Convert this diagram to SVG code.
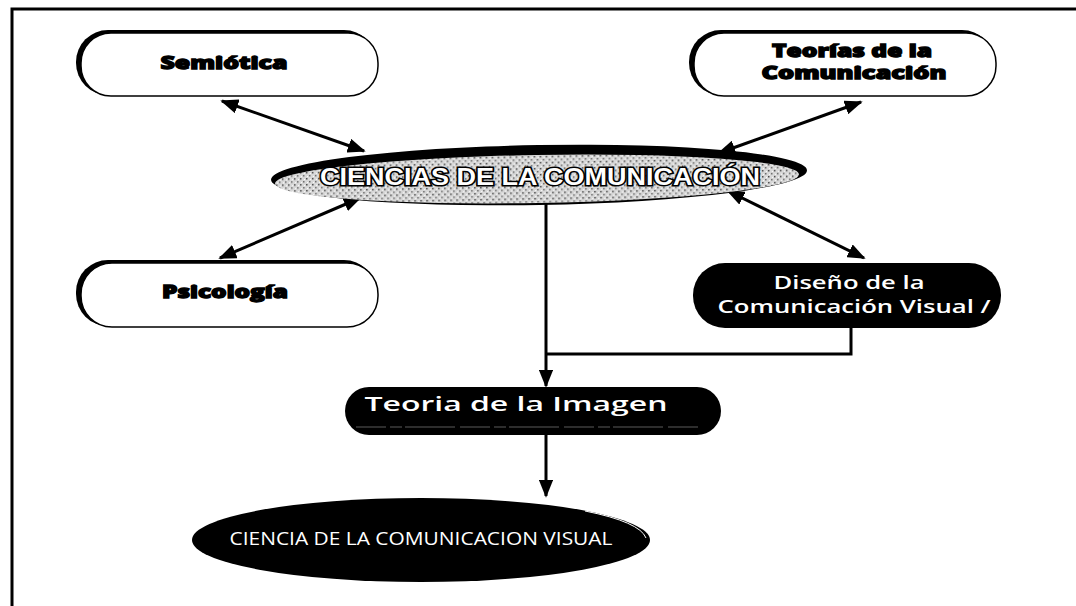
<svg xmlns="http://www.w3.org/2000/svg" width="1076" height="606" viewBox="0 0 1076 606">
<style>
.frame{fill:none;stroke:#000;stroke-width:3}
.conn{fill:none;stroke:#000;stroke-width:3}
.box{fill:#fff;stroke:#000;stroke-width:1.5}
.boxsh{fill:#000}
.hd{font-family:"Open Sans","Liberation Sans",sans-serif;font-weight:800;font-size:18px;fill:#000;stroke:#000;stroke-width:1.3;text-anchor:middle}
.wt{font-family:"Open Sans","Liberation Sans",sans-serif;font-weight:600;fill:#fff;text-anchor:middle}
.big{font-family:"Liberation Sans","Arial",sans-serif;font-weight:bold;font-size:23px;fill:#fff;stroke:#000;stroke-width:3;paint-order:stroke;text-anchor:middle}
</style>
<defs>
<marker id="ah" viewBox="0 0 10 8" refX="9" refY="4" markerWidth="6" markerHeight="4.8" orient="auto-start-reverse" markerUnits="strokeWidth">
<path d="M0,0 L10,4 L0,8 z" fill="#000"/>
</marker>
<pattern id="dots" width="6" height="6" patternUnits="userSpaceOnUse">
<rect width="6" height="6" fill="#d8d8d8"/>
<rect x="0" y="0" width="1.5" height="1.5" fill="#444"/>
<rect x="3" y="3" width="1.5" height="1.5" fill="#666"/>
<rect x="4" y="1" width="1" height="1" fill="#fff"/>
<rect x="1" y="4" width="1" height="1" fill="#fff"/>
</pattern>
</defs>
<rect width="1076" height="606" fill="#fff"/>
<path class="frame" d="M12,606 L12,9 L1076,9"/>

<g id="connectors">
<line class="conn" x1="222" y1="101" x2="364" y2="151" marker-start="url(#ah)" marker-end="url(#ah)"/>
<line class="conn" x1="861" y1="102" x2="719" y2="153" marker-start="url(#ah)" marker-end="url(#ah)"/>
<line class="conn" x1="360" y1="198" x2="220" y2="258" marker-start="url(#ah)" marker-end="url(#ah)"/>
<line class="conn" x1="728" y1="191" x2="864" y2="258" marker-start="url(#ah)" marker-end="url(#ah)"/>
<line class="conn" x1="546" y1="204" x2="546" y2="386" marker-end="url(#ah)"/>
<polyline class="conn" points="851,328 851,354 546,354"/>
<line class="conn" x1="546" y1="435" x2="546" y2="496" marker-end="url(#ah)"/>
</g>

<g id="ciencias">
<ellipse cx="539" cy="175" rx="268" ry="30" transform="rotate(-1 539 175)" fill="#000"/>
<ellipse cx="537" cy="179" rx="262" ry="24" transform="rotate(-1 537 179)" fill="url(#dots)"/>
<text class="big" x="540" y="185" textLength="440" lengthAdjust="spacingAndGlyphs">CIENCIAS DE LA COMUNICACIÓN</text>
</g>

<g id="semiotica">
<rect class="boxsh" x="76" y="30" width="300" height="65" rx="32"/>
<rect class="box" x="81" y="33" width="297" height="63" rx="30"/>
<text class="hd" x="224" y="69" textLength="127" lengthAdjust="spacingAndGlyphs">Semiótica</text>
</g>

<g id="teorias">
<rect class="boxsh" x="689" y="30" width="305" height="65" rx="32"/>
<rect class="box" x="694" y="33" width="302" height="63" rx="30"/>
<text class="hd" x="852" y="57" font-size="16" textLength="160" lengthAdjust="spacingAndGlyphs">Teorías de la</text>
<text class="hd" x="854" y="79" font-size="16" textLength="185" lengthAdjust="spacingAndGlyphs">Comunicación</text>
</g>

<g id="psicologia">
<rect class="boxsh" x="76" y="260" width="300" height="66" rx="32"/>
<rect class="box" x="81" y="263" width="297" height="64" rx="31"/>
<text class="hd" x="225" y="298" textLength="126" lengthAdjust="spacingAndGlyphs">Psicología</text>
</g>

<g id="diseno">
<rect x="693" y="263" width="308" height="65" rx="32" fill="#000"/>
<text class="wt" x="849" y="289" font-size="17.5" textLength="151" lengthAdjust="spacingAndGlyphs">Diseño de la</text>
<text class="wt" x="854" y="313" font-size="17.5" textLength="273" lengthAdjust="spacingAndGlyphs">Comunicación Visual /</text>
</g>

<g id="teoria-imagen">
<rect x="345" y="387" width="376" height="48" rx="24" fill="#000"/>
<path d="M356,427 L700,427" stroke="#999" stroke-width="0.6" stroke-dasharray="30 4 12 3 50 5"/>
<text class="wt" x="516" y="411" font-size="19" textLength="303" lengthAdjust="spacingAndGlyphs">Teoria de la Imagen</text>
</g>

<g id="ciencia-visual">
<ellipse cx="421" cy="540" rx="229" ry="42" fill="#000"/>
<path d="M585,511 Q640,522 646,538" fill="none" stroke="#fff" stroke-width="1"/>
<text x="421" y="545" font-family="Open Sans, Liberation Sans, sans-serif" font-size="18" fill="#fff" text-anchor="middle" textLength="383" lengthAdjust="spacingAndGlyphs">CIENCIA DE LA COMUNICACION VISUAL</text>
</g>
</svg>
